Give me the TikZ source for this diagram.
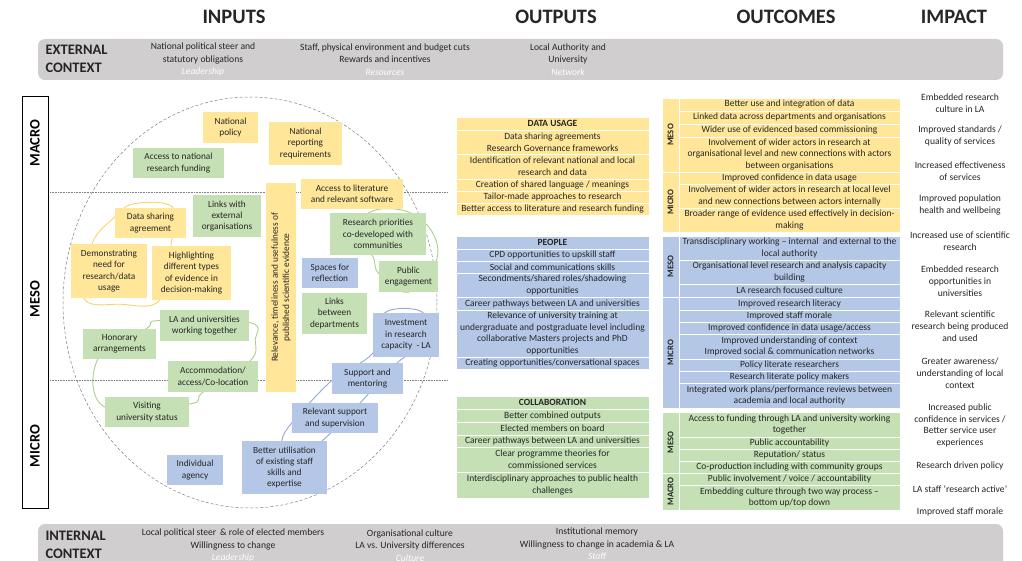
\documentclass[tikz,border=0pt]{standalone}
\usepackage{fontspec}
\setmainfont{Carlito}
\usetikzlibrary{backgrounds}
\definecolor{yel}{HTML}{FFE699}
\definecolor{grn}{HTML}{C5E0B4}
\definecolor{blu}{HTML}{B4C7E7}
\definecolor{ctx}{HTML}{D0CECE}
\definecolor{ink}{HTML}{262626}
\definecolor{yline}{HTML}{F6D56E}
\definecolor{gline}{HTML}{A9D18E}
\definecolor{bline}{HTML}{8FAADC}
\tikzset{
  box/.style={inner sep=1pt, align=center, text=ink, font=\fontsize{9.3}{11.3}\selectfont},
  yelbox/.style={box, fill=yel},
  grnbox/.style={box, fill=grn},
  blubox/.style={box, fill=blu},
  cell/.style={box, inner sep=0.6pt, draw=white, line width=0.8pt, font=\fontsize{9.5}{11.7}\selectfont},
  lblcell/.style={cell, rotate=90, minimum height=17, font=\bfseries\fontsize{8.7}{9}\selectfont},
  head/.style={text=ink, font=\bfseries\fontsize{20.5}{24}\selectfont},
  ctxhead/.style={text=ink, align=left, font=\bfseries\fontsize{14.5}{18}\selectfont},
  ctxtxt/.style={text=ink, align=center, font=\fontsize{9.6}{12.5}\selectfont},
  lvl/.style={text=black, rotate=90, font=\bfseries\fontsize{14.5}{16}\selectfont},
  impact/.style={text=ink, align=center, font=\fontsize{9.6}{11.8}\selectfont},
  loop/.style={line width=0.9pt}
}
\newcommand\ctxlab[1]{{\color{white}\itshape #1}}
\begin{document}
\begin{tikzpicture}[x=1pt,y=-1pt]
\useasboundingbox (0,0) rectangle (1022,561);

\node[head] (hin) at (234,17) {INPUTS};
\node[head] (hout) at (556,17) {OUTPUTS};
\node[head] (hoc) at (786,17) {OUTCOMES};
\node[head] (himp) at (954,17) {IMPACT};

\fill[ctx, rounded corners=7] (38,39) rectangle (1003,80);
\node[ctxhead, anchor=west] (ext) at (42,59) {EXTERNAL\\CONTEXT};
\node[ctxtxt] (e1) at (203,59.5) {National political steer and\\statutory obligations\\\ctxlab{Leadership}};
\node[ctxtxt] (e2) at (385,59.5) {Staff, physical environment and budget cuts\\Rewards and incentives\\\ctxlab{Resources}};
\node[ctxtxt] (e3) at (568,59.5) {Local Authority and\\University\\\ctxlab{Network}};

\fill[ctx, rounded corners=7] (38,524) rectangle (1003,600);
\node[ctxhead, anchor=west] (int) at (42,545) {INTERNAL\\CONTEXT};
\node[ctxtxt] (i1) at (233,545.5) {Local political steer \,\& role of elected members\\Willingness to change\\\ctxlab{Leadership}};
\node[ctxtxt] (i2) at (410,545.5) {Organisational culture\\LA vs. University differences\\\ctxlab{Culture}};
\node[ctxtxt] (i3) at (597,544) {Institutional memory\\Willingness to change in academia \& LA\\\ctxlab{Staff}};

\draw[line width=0.8pt] (22,96) rectangle (48,508);
\node[lvl] (lmacro) at (35,143) {MACRO};
\node[lvl] (lmeso) at (35,299) {MESO};
\node[lvl] (lmicro) at (35,446) {MICRO};

\draw[gray, densely dashed, line width=0.5pt] (250,302.5) ellipse [x radius=187, y radius=205.5];
\draw[gray, densely dotted, line width=0.6pt] (50,192) -- (447,192);
\draw[gray, densely dotted, line width=0.6pt] (50,380) -- (447,380);

\node[yelbox, minimum width=55, minimum height=31] (npol) at (230.5,127.5) {National\\policy};
\node[yelbox, minimum width=73, minimum height=43] (nrep) at (305.5,143.5) {National\\reporting\\requirements};
\node[grnbox, minimum width=91, minimum height=30] (anrf) at (178.5,163) {Access to national\\research funding};
\node[yelbox, minimum width=102, minimum height=30] (alit) at (352,194) {Access to literature\\and relevant software};
\node[grnbox, minimum width=68, minimum height=42] (lext) at (227,216) {Links with\\external\\organisations};
\node[yelbox, minimum width=209, minimum height=30, rotate=90] (relev) at (281,287.5) {Relevance, timeliness and usefulness of\\published scientific evidence};
\node[yelbox, minimum width=71, minimum height=30] (dsa) at (150.5,223) {Data sharing\\agreement};
\node[grnbox, minimum width=96, minimum height=42] (rpc) at (378,234) {Research priorities\\co-developed with\\communities};
\node[yelbox, minimum width=76, minimum height=54] (dem) at (109,271) {Demonstrating\\need for\\research/data\\usage};
\node[yelbox, minimum width=79, minimum height=54] (hlt) at (191.5,273) {Highlighting\\different types\\of evidence in\\decision-making};
\node[blubox, minimum width=56, minimum height=30] (spc) at (330,273) {Spaces for\\reflection};
\node[grnbox, minimum width=59, minimum height=31] (pub) at (408.5,276.5) {Public\\engagement};
\node[grnbox, minimum width=65, minimum height=41] (lbd) at (334.5,313.5) {Links\\between\\departments};
\node[grnbox, minimum width=89, minimum height=31] (lau) at (204.5,325.5) {LA and universities\\working together};
\node[grnbox, minimum width=73, minimum height=30] (hon) at (119.5,344) {Honorary\\arrangements};
\node[blubox, minimum width=66, minimum height=44] (inv) at (406,335) {Investment\\in research\\capacity \ - LA};
\node[grnbox, minimum width=90, minimum height=31] (acc) at (213,376.5) {Accommodation/\\access/Co-location};
\node[blubox, minimum width=71, minimum height=31] (sup) at (367.5,378.5) {Support and\\mentoring};
\node[grnbox, minimum width=84, minimum height=30] (vis) at (147,412) {Visiting\\university status};
\node[blubox, minimum width=86, minimum height=30] (rss) at (335,418) {Relevant support\\and supervision};
\node[blubox, minimum width=85, minimum height=53] (but) at (284.5,467.5) {Better utilisation\\of existing staff\\skills and\\expertise};
\node[blubox, minimum width=56, minimum height=30] (ind) at (195,470) {Individual\\agency};

\foreach \t/\b/\txt [count=\i] in {
  117/130/{\textbf{DATA USAGE}},
  130/154/{Data sharing agreements\\Research Governance frameworks},
  154/179/{Identification of relevant national and local\\research and data},
  179/191/{Creation of shared language / meanings},
  191/203/{Tailor-made approaches to research},
  203/215/{Better access to literature and research funding}}
  \node[cell, fill=yel, minimum width=193, minimum height={\b-\t}] (du\i) at (552.5,{(\t+\b)/2}) {\txt};

\foreach \t/\b/\txt [count=\i] in {
  236/249/{\textbf{PEOPLE}},
  249/261/{CPD opportunities to upskill staff},
  261/273/{Social and communications skills},
  273/297/{Secondments/shared roles/shadowing\\opportunities},
  297/310/{Career pathways between LA and universities},
  310/357/{Relevance of university training at\\undergraduate and postgraduate level including\\collaborative Masters projects and PhD\\opportunities},
  357/369/{Creating opportunities/conversational spaces}}
  \node[cell, fill=blu, minimum width=193, minimum height={\b-\t}] (pe\i) at (552.5,{(\t+\b)/2}) {\txt};

\foreach \t/\b/\txt [count=\i] in {
  396/409/{\textbf{COLLABORATION}},
  409/422/{Better combined outputs},
  422/435/{Elected members on board},
  435/447/{Career pathways between LA and universities},
  447/472/{Clear programme theories for\\commissioned services},
  472/498/{Interdisciplinary approaches to public health\\challenges}}
  \node[cell, fill=grn, minimum width=193, minimum height={\b-\t}] (co\i) at (552.5,{(\t+\b)/2}) {\txt};

\foreach \t/\b/\txt [count=\i] in {
  98/111/{Better use and integration of data},
  111/124/{Linked data across departments and organisations},
  124/137/{Wider use of evidenced based commissioning},
  137/172/{Involvement of wider actors in research at\\organisational level and new connections with actors\\between organisations},
  172/184/{Improved confidence in data usage},
  184/208/{Involvement of wider actors in research at local level\\and new connections between actors internally},
  208/232/{Broader range of evidence used effectively in decision-\\making}}
  \node[cell, fill=yel, minimum width=221, minimum height={\b-\t}] (oy\i) at (789.5,{(\t+\b)/2}) {\txt};
\node[lblcell, fill=yel, minimum width=74] (oymeso) at (670.5,135) {MESO};
\node[lblcell, fill=yel, minimum width=60] (oymicro) at (670.5,202) {MICRO};

\foreach \t/\b/\txt [count=\i] in {
  236/260/{Transdisciplinary working -- internal \ and external to the\\local authority},
  260/284/{Organisational level research and analysis capacity\\building},
  284/297/{LA research focused culture},
  297/310/{Improved research literacy},
  310/322/{Improved staff morale},
  322/334/{Improved confidence in data usage/access},
  334/359/{Improved understanding of context\\Improved social \& communication networks},
  359/371/{Policy literate researchers},
  371/383/{Research literate policy makers},
  383/408/{Integrated work plans/performance reviews between\\academia and local authority}}
  \node[cell, fill=blu, minimum width=221, minimum height={\b-\t}] (ob\i) at (789.5,{(\t+\b)/2}) {\txt};
\node[lblcell, fill=blu, minimum width=61] (obmeso) at (670.5,266.5) {MESO};
\node[lblcell, fill=blu, minimum width=111] (obmicro) at (670.5,352.5) {MICRO};

\foreach \t/\b/\txt [count=\i] in {
  412/437/{Access to funding through LA and university working\\together},
  437/449/{Public accountability},
  449/461/{Reputation/ status},
  461/473/{Co-production including with community groups},
  473/485/{Public involvement / voice / accountability},
  485/510/{Embedding culture through two way process --\\bottom up/top down}}
  \node[cell, fill=grn, minimum width=221, minimum height={\b-\t}] (og\i) at (789.5,{(\t+\b)/2}) {\txt};
\node[lblcell, fill=grn, minimum width=61] (ogmeso) at (670.5,442.5) {MESO};
\node[lblcell, fill=grn, minimum width=37] (ogmacro) at (670.5,491.5) {MACRO};

\node[impact] (im1) at (960,103) {Embedded research\\culture in LA};
\node[impact] (im2) at (960,136) {Improved standards /\\quality of services};
\node[impact] (im3) at (960,171) {Increased effectiveness\\of services};
\node[impact] (im4) at (960,205) {Improved population\\health and wellbeing};
\node[impact] (im5) at (960,241) {Increased use of scientific\\research};
\node[impact] (im6) at (960,281) {Embedded research\\opportunities in\\universities};
\node[impact] (im7) at (960,326) {Relevant scientific\\research being produced\\and used};
\node[impact] (im8) at (960,373) {Greater awareness/\\understanding of local\\context};
\node[impact] (im9) at (960,425.5) {Increased public\\confidence in services /\\Better service user\\experiences};
\node[impact] (im10) at (960,466) {Research driven policy};
\node[impact] (im11) at (960,489) {LA staff `research active'};
\node[impact] (im12) at (960,512) {Improved staff morale};

\begin{pgfonlayer}{background}
\fill[white] (0,0) rectangle (1022,561);
\draw[loop, yline] plot[smooth cycle, tension=0.6] coordinates {
  ([shift={(-17,-4)}]dsa.north) ([shift={(-14,-1)}]dsa.north east) ([shift={(-20,-4)}]hlt.north)
  ([shift={(8,0)}]hlt.south west) ([shift={(11,6)}]dem.south) ([shift={(-25,0)}]dem.south)
  ([shift={(-17,0)}]dem.north) ([shift={(0,-6)}]dsa.west)};
\draw[loop, gline] plot[smooth cycle, tension=0.6] coordinates {
  ([shift={(-10,0)}]hon.north east) ([shift={(0,-5)}]lau.west) ([shift={(0,-3)}]lau.east)
  ([shift={(6,-1)}]lau.south east) ([shift={(-8,0)}]acc.north east) ([shift={(-10,0)}]acc.south)
  ([shift={(0,-8)}]vis.east) ([shift={(0,-5)}]vis.west) ([shift={(15,0)}]hon.south west)};
\draw[loop, gline] plot[smooth cycle, tension=0.6] coordinates {
  ([shift={(-5,-2)}]rpc.north) ([shift={(30,-1)}]rpc.north) ([shift={(6,-2)}]rpc.east)
  ([shift={(-2,0)}]pub.north east) (pub.south) ([shift={(0,-3)}]pub.west)
  ([shift={(-6,0)}]rpc.south) ([shift={(20,0)}]rpc.west)};
\draw[loop, bline] plot[smooth cycle, tension=0.5] coordinates {
  ([shift={(14,-2)}]inv.north) ([shift={(-5,0)}]inv.east) ([shift={(-6,0)}]sup.north east)
  ([shift={(-18,0)}]rss.north east) ([shift={(-5,0)}]but.north east) (but.center)
  ([shift={(40,0)}]but.north west) ([shift={(0,5)}]rss.west) ([shift={(0,2)}]sup.west)
  ([shift={(0,-4)}]inv.south west) ([shift={(12,0)}]inv.north west)};
\end{pgfonlayer}
\end{tikzpicture}
\end{document}
